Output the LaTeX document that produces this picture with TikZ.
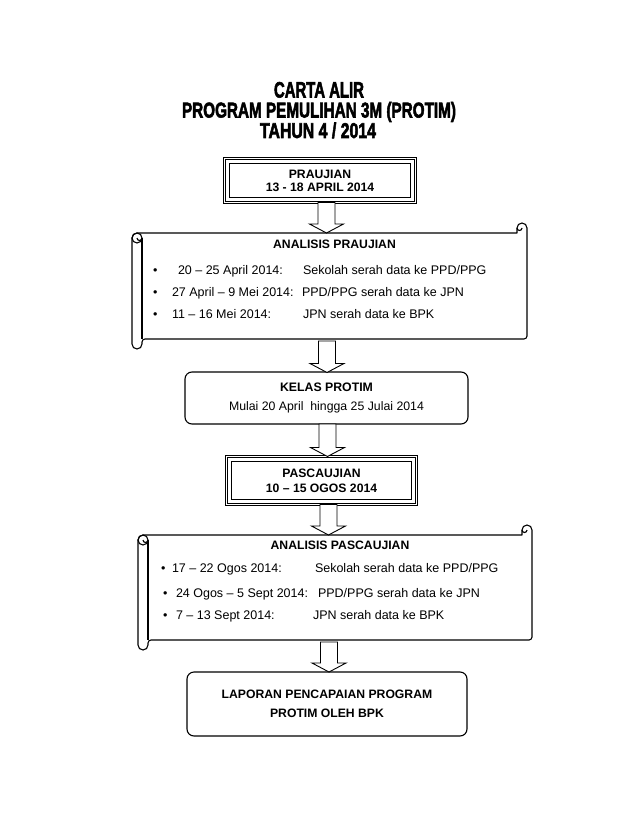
\documentclass[tikz,border=0pt]{standalone}
\usepackage{fontspec}
\usepackage{graphicx}
\setmainfont{Liberation Sans}
\newfontfamily\titlefont[FakeBold=3]{Liberation Sans}
\usetikzlibrary{calc}

\tikzset{
 every node/.style={inner sep=0pt, outer sep=0pt},
 titletext/.style={anchor=base, font=\titlefont\bfseries},
 bodytext/.style={anchor=base west, font=\fontsize{12.5}{14}\selectfont},
 headtext/.style={anchor=base, font=\bfseries\fontsize{12.2}{14}\selectfont},
 datebox/.style={draw, line width=0.9pt, double=white, double distance=1pt, fill=white, align=center, font=\bfseries\fontsize{12.2}{13}\selectfont},
 innerframe/.style={draw, line width=0.8pt},
 roundbox/.style={draw, line width=1.1pt, rounded corners=7pt, fill=white, align=center, font=\fontsize{12.3}{19}\selectfont},
 scrollline/.style={draw, line width=1.1pt, fill=white, line join=round},
 scrolldetail/.style={draw, line width=1.1pt},
 barrow/.style={draw, line width=0.9pt, fill=white, line join=miter},
}

% block arrow from coordinate #1 (top of shaft) to coordinate #2 (tip)
\newcommand\blockarrow[2]{%
  \draw[barrow] let \p1=(#1), \p2=(#2) in
    (\x1-8.5pt,\y1) -- (\x1+8.5pt,\y1) -- (\x1+8.5pt,\y2+9pt) -- (\x1+17pt,\y2+9pt)
    -- (\x1,\y2) -- (\x1-17pt,\y2+9pt) -- (\x1-8.5pt,\y2+9pt) -- cycle;}

% horizontal scroll: left, top, right, bottom (pixel coords, y down)
\newcommand\scrollshape[4]{%
  \path[scrollline] (#1,{#2+15}) arc[start angle=180,end angle=270,radius=5]
    -- ({#3-10},{#2+10}) -- ({#3-10},{#2+5})
    arc[start angle=180,end angle=360,radius=5]
    [rounded corners=3pt] -- (#3,{#4-10}) -- ({#1+10},{#4-10}) [sharp corners]
    -- ({#1+10},{#4-5}) arc[start angle=0,end angle=180,radius=5] -- cycle;
  \path[scrolldetail] ({#1+5},{#2+15}) circle[radius=5];
  \path[scrolldetail] ({#1+10},{#2+15}) -- ({#1+10},{#4-10});
  \path[scrolldetail] ({#1+5},{#2+15}) arc[start angle=180,end angle=0,radius=2.5];
  \path[scrolldetail] ({#3-5},{#2+5}) arc[start angle=0,end angle=180,radius=2.5];
}

\begin{document}
\begin{tikzpicture}[x=1pt,y=-1pt]
\fill[white] (0,0) rectangle (638,826);
\useasboundingbox (0,0) rectangle (638,826);

% title
\node[titletext] (t1) at (319,97.5) {\resizebox{90pt}{15.5pt}{CARTA ALIR}};
\node[titletext] (t2) at (319,117.5) {\resizebox{274pt}{15.5pt}{PROGRAM PEMULIHAN 3M (PROTIM)}};
\node[titletext] (t3) at (318,138) {\resizebox{116pt}{15.5pt}{TAHUN 4 / 2014}};

% PRAUJIAN
\node[datebox, minimum width=191pt, minimum height=44pt] (pra) at (320,180.5) {PRAUJIAN\\13 - 18 APRIL 2014};
\draw[innerframe] ([shift={(5,5)}]pra.north west) rectangle ([shift={(-5,-5)}]pra.south east);

% ANALISIS PRAUJIAN scroll
\scrollshape{132}{223}{527}{349}
\node[headtext] (s1h) at (334.5,248) {ANALISIS PRAUJIAN};
\node[bodytext] (s1b1) at (153,274) {•};
\node[bodytext] (s1d1) at (178,274) {20 – 25 April 2014:};
\node[bodytext] (s1t1) at (303,274) {Sekolah serah data ke PPD/PPG};
\node[bodytext] (s1b2) at (153,296) {•};
\node[bodytext] (s1d2) at (172,296) {27 April – 9 Mei 2014:};
\node[bodytext] (s1t2) at (302,296) {PPD/PPG serah data ke JPN};
\node[bodytext] (s1b3) at (153,318) {•};
\node[bodytext] (s1d3) at (172,318) {11 – 16 Mei 2014:};
\node[bodytext] (s1t3) at (303,318) {JPN serah data ke BPK};

% KELAS PROTIM
\node[roundbox, minimum width=283pt, minimum height=52pt] (kelas) at (326.5,398) {\textbf{KELAS PROTIM}\\Mulai 20 April\ \ hingga 25 Julai 2014};

% PASCAUJIAN
\node[datebox, font=\bfseries\fontsize{12.2}{15}\selectfont, minimum width=190pt, minimum height=48pt] (pasca) at (321.5,480.5) {PASCAUJIAN\\10 – 15 OGOS 2014};
\draw[innerframe] ([shift={(5,5)}]pasca.north west) rectangle ([shift={(-5,-5)}]pasca.south east);

% ANALISIS PASCAUJIAN scroll
\scrollshape{138}{525}{532}{650}
\node[headtext] (s2h) at (340,549) {ANALISIS PASCAUJIAN};
\node[bodytext] (s2b1) at (161,572) {•};
\node[bodytext] (s2d1) at (172,572) {17 – 22 Ogos 2014:};
\node[bodytext] (s2t1) at (315,572) {Sekolah serah data ke PPD/PPG};
\node[bodytext] (s2b2) at (163,597) {•};
\node[bodytext] (s2d2) at (176,597) {24 Ogos – 5 Sept 2014:};
\node[bodytext] (s2t2) at (318,597) {PPD/PPG serah data ke JPN};
\node[bodytext] (s2b3) at (163,619) {•};
\node[bodytext] (s2d3) at (176,619) {7 – 13 Sept 2014:};
\node[bodytext] (s2t3) at (313,619) {JPN serah data ke BPK};

% LAPORAN
\node[roundbox, font=\bfseries\fontsize{12.2}{19}\selectfont, minimum width=280pt, minimum height=64pt] (lap) at (327,704) {LAPORAN PENCAPAIAN PROGRAM\\PROTIM OLEH BPK};

% arrows
\coordinate (a1s) at (326.5,202.5);
\coordinate (a1e) at (326.5,233);
\coordinate (a2s) at (327,341);
\coordinate (a2e) at (327,372.5);
\coordinate (a3s) at (327.5,424);
\coordinate (a3e) at (327.5,456.5);
\coordinate (a4s) at (328.5,504.5);
\coordinate (a4e) at (328.5,535);
\coordinate (a5s) at (329,642);
\coordinate (a5e) at (329,672);
\blockarrow{a1s}{a1e}
\blockarrow{a2s}{a2e}
\blockarrow{a3s}{a3e}
\blockarrow{a4s}{a4e}
\blockarrow{a5s}{a5e}
\end{tikzpicture}
\end{document}
